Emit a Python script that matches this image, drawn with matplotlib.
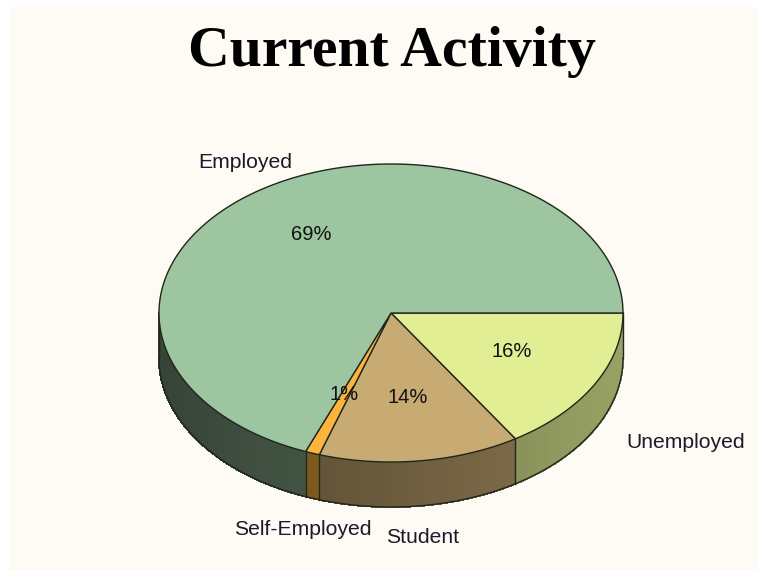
import numpy as np
import matplotlib
matplotlib.use("Agg")
import matplotlib.pyplot as plt
from matplotlib.patches import Polygon, Rectangle

title = "Current Activity"
categories = ["Unemployed", "Student", "Self-Employed", "Employed"]
shares = [16, 14, 1, 69]

top_colors = ["#E1EE94", "#C8AA73", "#FCB43C", "#9DC59F"]
side_gain = [1.0, 1.0, 1.0, 0.87]
label_xy = [(626, 447.5), (386, 543), (234, 535), (198, 168.5)]
pct_xy = [(512, 357), (408, 403), (344, 400), (311, 240)]

W, H = 758, 573
cx, cy, rx, ry, depth = 391, 313, 232, 149, 45
edge = "#1E261E"

fig = plt.figure(figsize=(W / 100, H / 100), dpi=100, facecolor="white")
ax = fig.add_axes([0, 0, 1, 1])
ax.set_xlim(0, W)
ax.set_ylim(H, 0)
ax.axis("off")
ax.add_patch(Rectangle((9, 7), 749, 563, fc="#FEFBF5", ec="none", zorder=0))


def ell(t):
    return cx + rx * np.cos(t), cy + ry * np.sin(t)


def shade(color, x, gain):
    f = (0.40 + 0.28 * (x - (cx - rx)) / (2 * rx)) * gain
    return tuple(c * f for c in matplotlib.colors.to_rgb(color))


fr = np.array(shares, float) / sum(shares)
edges = np.concatenate([[0], np.cumsum(fr)]) * 2 * np.pi

# side wall, drawn as narrow vertical strips so the shading varies with x
for i, col in enumerate(top_colors):
    a, b = edges[i], min(edges[i + 1], np.pi)
    if a >= b:
        continue
    ts = np.linspace(a, b, max(2, int(np.degrees(b - a) / 1.5) + 1))
    for t0, t1 in zip(ts[:-1], ts[1:]):
        x0, y0 = ell(t0)
        x1, y1 = ell(t1)
        c = shade(col, (x0 + x1) / 2, side_gain[i])
        ax.add_patch(Polygon([(x0, y0), (x1, y1), (x1, y1 + depth), (x0, y0 + depth)],
                             fc=c, ec=c, lw=0.8, antialiased=False, zorder=1))

# side outline
ts = np.linspace(0, np.pi, 300)
xs, ys = ell(ts)
ax.plot(xs, ys + depth, color=edge, lw=1.0, zorder=2)
for t in [0, np.pi] + [e for e in edges[1:-1] if e < np.pi]:
    x, y = ell(t)
    ax.plot([x, x], [y, y + depth], color=edge, lw=1.0, zorder=2)

# top face
for i, col in enumerate(top_colors):
    ts = np.linspace(edges[i], edges[i + 1], 240)
    xs, ys = ell(ts)
    pts = np.column_stack([np.r_[cx, xs], np.r_[cy, ys]])
    ax.add_patch(Polygon(pts, closed=True, fc=col, ec=edge, lw=1.0, joinstyle="round", zorder=3))

for name, (x, y) in zip(categories, label_xy):
    ax.text(x, y, name, family="Liberation Sans", fontsize=15.2, color="#1A1A2A",
            ha="left", va="baseline", zorder=5)
for v, (x, y) in zip(shares, pct_xy):
    ax.text(x, y, f"{v}%", family="Liberation Sans", fontsize=14.5, color="#111111",
            ha="center", va="baseline", zorder=5)
ax.text(391.5, 66.5, title, family="Liberation Serif", fontweight="bold", fontsize=41.6,
        color="black", ha="center", va="baseline", zorder=5)

fig.savefig("out.png", dpi=100, facecolor="white")
